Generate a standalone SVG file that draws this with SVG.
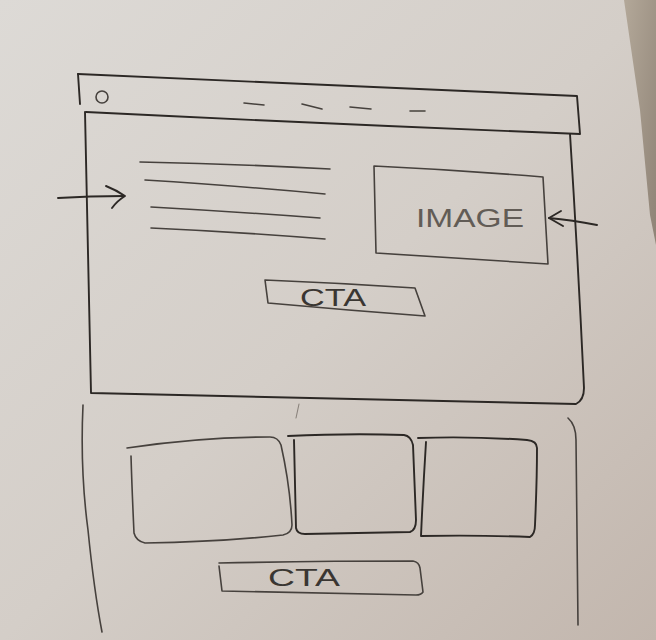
<svg xmlns="http://www.w3.org/2000/svg" width="656" height="640" viewBox="0 0 656 640">
  <defs>
    <linearGradient id="paper" x1="0" y1="0" x2="1" y2="1">
      <stop offset="0" stop-color="#dddad6"/>
      <stop offset="0.5" stop-color="#d4cec8"/>
      <stop offset="1" stop-color="#c2b6ad"/>
    </linearGradient>
    <linearGradient id="desk" x1="0" y1="0" x2="1" y2="1">
      <stop offset="0" stop-color="#b3a899"/>
      <stop offset="1" stop-color="#8f8376"/>
    </linearGradient>
    <style>
      .pen { fill: none; stroke: #2c2825; stroke-width: 1.9; stroke-linecap: round; stroke-linejoin: round; }
      .soft { fill: none; stroke: #46413d; stroke-width: 1.6; stroke-linecap: round; stroke-linejoin: round; }
      .faint { fill: none; stroke: #8a837c; stroke-width: 1.1; stroke-linecap: round; }
      .label { font-family: "Liberation Sans", Arial, sans-serif; fill: #3a3632; }
    </style>
  </defs>

  <!-- sheet of paper and the desk behind its corner -->
  <rect x="0" y="0" width="656" height="640" fill="url(#paper)"/>
  <path d="M624 0 L656 0 L656 245 L650 215 L640 110 Z" fill="url(#desk)"/>

  <!-- browser window: title bar -->
  <g id="title-bar">
    <path class="pen" d="M78 74 Q300 84 577 96 L580 134 Q330 124 86 112"/>
    <path class="pen" d="M78 74 L80 104"/>
    <circle class="soft" cx="102" cy="97" r="6"/>
    <path class="soft" d="M244 103 L264 105 M302 104 L322 109 M350 107 L371 109 M410 111 L425 111"/>
  </g>

  <!-- browser window: main page area -->
  <g id="page-frame">
    <path class="pen" d="M85 112 L91 393 Q340 398 576 404 Q584 400 584 388 Q578 260 570 134"/>
  </g>

  <!-- heading / body text placeholder lines -->
  <g id="text-lines">
    <path class="soft" d="M140 162 Q240 164 330 169"/>
    <path class="soft" d="M145 180 Q240 186 325 194"/>
    <path class="soft" d="M151 207 Q240 212 320 218"/>
    <path class="soft" d="M151 228 Q240 232 325 239"/>
  </g>

  <!-- image placeholder -->
  <g id="image-box">
    <path class="soft" d="M374 166 Q460 170 543 177 L548 264 Q460 258 376 253 Z"/>
    <text class="label" x="416" y="227" font-size="25" textLength="108" lengthAdjust="spacingAndGlyphs" style="fill:#625c56">IMAGE</text>
  </g>

  <!-- primary call-to-action button -->
  <g id="cta-top">
    <path class="soft" d="M265 280 Q340 283 415 288 L425 316 Q345 310 268 303 Z"/>
    <text class="label" x="300" y="306" font-size="23" textLength="66" lengthAdjust="spacingAndGlyphs">CTA</text>
  </g>

  <!-- lower content section -->
  <g id="lower-section">
    <path class="soft" d="M83 405 Q80 470 88 530 Q94 590 102 632"/>
    <path class="soft" d="M568 418 Q576 425 576 440 Q577 540 578 625"/>
    <path class="faint" d="M299 404 L296 418"/>
  </g>

  <!-- three content cards -->
  <g id="card-1">
    <path class="soft" d="M127 448 Q200 437 270 437 Q278 437 281 445 Q290 485 292 525 Q292 533 283 535 Q220 542 145 543 Q136 541 134 533 Q132 490 131 456"/>
  </g>
  <g id="card-2">
    <path class="pen" d="M294 440 L296 528 Q297 534 305 534 L410 532 Q416 530 416 520 Q414 470 413 445 Q411 436 404 435 Q350 433 288 436"/>
  </g>
  <g id="card-3">
    <path class="pen" d="M426 442 Q423 490 421 536 Q480 535 530 537 Q535 534 535 525 Q537 480 537 448 Q537 441 527 440 Q470 436 418 438"/>
  </g>

  <!-- secondary call-to-action button -->
  <g id="cta-bottom">
    <path class="soft" d="M219 563 Q320 561 413 561 Q419 562 420 568 L423 592 Q421 595 416 595 Q320 593 222 591 L219 566"/>
    <text class="label" x="268" y="586" font-size="23" textLength="72" lengthAdjust="spacingAndGlyphs">CTA</text>
  </g>

  <!-- annotation arrows pointing at the content -->
  <g id="connectors">
    <path class="pen" d="M58 198 Q90 196 124 196"/>
    <path class="pen" d="M106 186 Q116 190 125 196 Q117 201 112 208"/>
    <path class="pen" d="M597 225 Q572 220 549 218"/>
    <path class="pen" d="M561 211 L549 218 L563 226"/>
  </g>
</svg>
